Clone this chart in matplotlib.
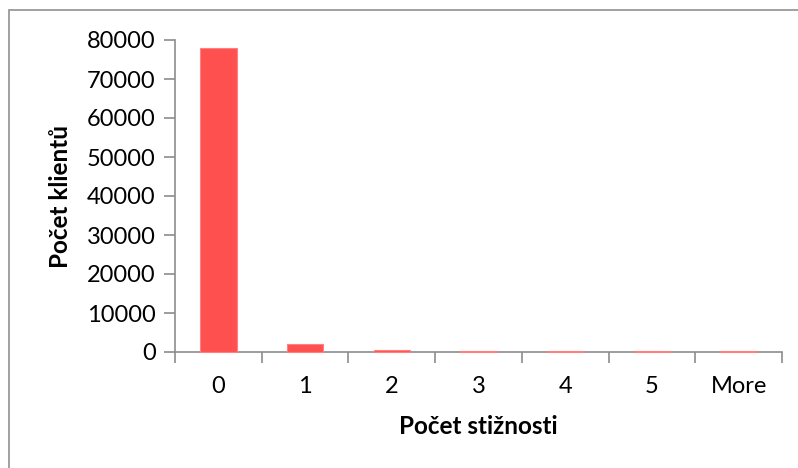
import matplotlib
matplotlib.use("Agg")
import matplotlib.pyplot as plt
from matplotlib.patches import Rectangle

categories = ["0", "1", "2", "3", "4", "5", "More"]
counts = [78000, 1950, 450, 150, 150, 150, 150]
y_ticks = [0, 10000, 20000, 30000, 40000, 50000, 60000, 70000, 80000]

plt.rcParams["font.family"] = ["Lato", "DejaVu Sans"]

W, H = 798, 468
fig = plt.figure(figsize=(W / 100, H / 100), dpi=100)

# chart-area frame (runs off the right and bottom edges)
fig.add_artist(Rectangle((9 / W, -0.1), 1.2, 1 - 10 / H + 0.1,
                         transform=fig.transFigure, fill=False,
                         edgecolor="#9a9a9a", linewidth=1.3))

ax = fig.add_axes([175 / W, 1 - 352 / H, 607 / W, 312 / H])
x = list(range(len(categories)))
ax.bar(x, counts, width=0.42, color="#ff5050", edgecolor="#ff8080",
       linewidth=0.8, zorder=3, clip_on=False)

ax.set_xlim(-0.5, len(categories) - 0.5)
ax.set_ylim(0, 80000)
ax.set_yticks(y_ticks)
ax.set_yticklabels([str(v) for v in y_ticks], fontsize=17)

# ticks between categories, labels at category centres
ax.set_xticks([i - 0.5 for i in range(len(categories) + 1)])
ax.set_xticklabels([])
ax.set_xticks(x, minor=True)
ax.set_xticklabels(categories, minor=True, fontsize=17)
ax.tick_params(axis="x", which="major", length=8, color="#8c8c8c", width=1.2)
ax.tick_params(axis="x", which="minor", length=0, pad=17)
ax.tick_params(axis="y", length=8, color="#8c8c8c", width=1.2, pad=6)

for s in ["top", "right"]:
    ax.spines[s].set_visible(False)
for s in ["left", "bottom"]:
    ax.spines[s].set_color("#8c8c8c")
    ax.spines[s].set_linewidth(1.2)
    ax.spines[s].set_zorder(2)

fig.text(478 / W, 1 - 434 / H, "Počet stižnosti", fontsize=17.5,
         fontweight="bold", ha="center", va="baseline")
fig.text(60 / W, 1 - 196 / H, "Počet klientů", rotation=90, fontsize=17.5,
         fontweight="bold", ha="center", va="center")

fig.savefig("out.png", dpi=100)
